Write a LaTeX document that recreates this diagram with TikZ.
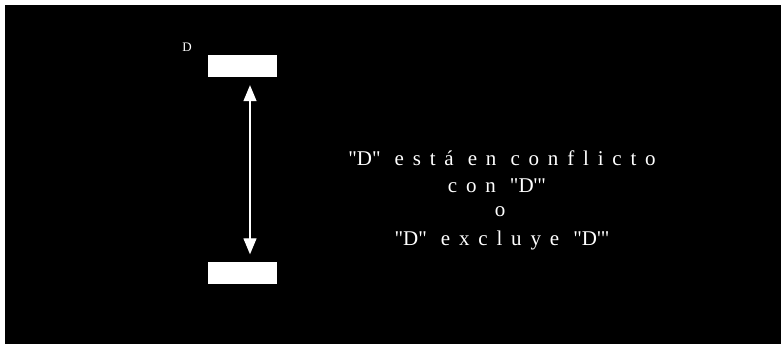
\documentclass[tikz,border=0pt]{standalone}
\usepackage{fontspec}
\setmainfont{Liberation Serif}
\usetikzlibrary{arrows.meta}
\tikzset{
  bloque/.style={fill=white, draw=none, minimum width=69pt, minimum height=22pt, inner sep=0pt},
  texto/.style={text=white, font=\fontsize{21}{24}\selectfont\addfontfeature{LetterSpace=42}, inner sep=0pt}
}
\newcommand{\cm}{\textquotedbl}
\newcommand{\pr}{\textquotesingle}
\begin{document}
\begin{tikzpicture}[x=1pt,y=-1pt]
        \useasboundingbox (0,0) rectangle (781,344);
        \fill[white] (0,0) rectangle (781,344);
        \fill[black] (5,5) rectangle (781,344);

        \node[bloque] (arriba) at (242.5,66) {};
        \node[bloque] (abajo) at (242.5,273.5) {};
        \node[text=white, font=\fontsize{13}{15}\selectfont, inner sep=0pt] (etiqueta) at (187,47) {D};

        \draw[white, line width=1.3pt, {Triangle[width=13pt,length=16pt]}-{Triangle[width=13pt,length=16pt]}]
            ([xshift=7.5pt,yshift=-8pt]arriba.south) -- ([xshift=7.5pt,yshift=8pt]abajo.north);

        \node[texto] (linea1) at (502,158) {\cm D\cm{} está en conflicto};
        \node[texto] (linea2) at (497,186) {con \cm D\pr\cm};
        \node[texto] (linea3) at (500,212) {o};
        \node[texto] (linea4) at (502,240) {\cm D\cm{} excluye \cm D\pr\cm};
    \end{tikzpicture}
\end{document}
